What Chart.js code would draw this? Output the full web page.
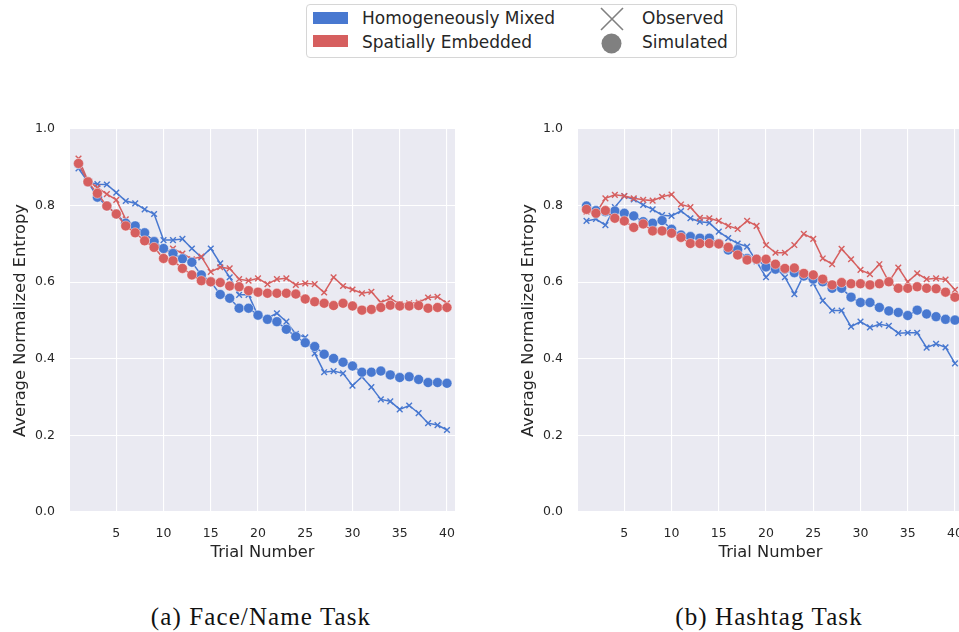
<!DOCTYPE html>
<html>
<head>
<meta charset="utf-8">
<script src="https://cdn.jsdelivr.net/npm/chart.js@4/dist/chart.umd.min.js"></script>
<style>
  html, body { margin: 0; padding: 0; background: #ffffff; overflow: hidden; }
  body { width: 959px; height: 632px; position: relative; font-family: "DejaVu Sans", sans-serif; color: #262626; }
  canvas { position: absolute; top: 100px; }
  #faceChart { left: 0px; }
  #hashtagChart { left: 508px; }
  #legend {
    position: absolute; left: 306px; top: 4px; width: 431px; height: 54px;
    box-sizing: border-box; border: 1px solid #d6d6d6; border-radius: 4px; background: #ffffff;
    font-size: 17px;
  }
  #legend .lbl { position: absolute; line-height: 20px; white-space: nowrap; color: #262626; }
  #legend .patch { position: absolute; width: 35px; height: 12px; }
  #legend svg { position: absolute; }
  .caption {
    position: absolute; top: 602px; line-height: 30px; white-space: nowrap;
    font-family: "Liberation Serif", "Times New Roman", serif; font-size: 25px; letter-spacing: 1.1px;
    color: #111111; transform: translateX(-50%);
  }
</style>
</head>
<body>
<div id="legend">
  <div class="patch" style="left:6px; top:7px; background:#4878d0;"></div>
  <span class="lbl" style="left:55px; top:3px;">Homogeneously Mixed</span>
  <div class="patch" style="left:6px; top:30px; background:#d65f5f;"></div>
  <span class="lbl" style="left:55px; top:27px;">Spatially Embedded</span>
  <svg style="left:292px; top:1px;" width="26" height="26" viewBox="0 0 26 26">
    <path d="M2 2 L24 24 M24 2 L2 24" stroke="#808080" stroke-width="1.6" fill="none"/>
  </svg>
  <span class="lbl" style="left:335px; top:3px;">Observed</span>
  <svg style="left:293px; top:27px;" width="24" height="24" viewBox="0 0 24 24">
    <circle cx="11.5" cy="11.5" r="10" fill="#808080"/>
  </svg>
  <span class="lbl" style="left:335px; top:27px;">Simulated</span>
</div>

<canvas id="faceChart" width="470" height="470"></canvas>
<canvas id="hashtagChart" width="470" height="470"></canvas>

<span class="caption" style="left:261px;">(a) Face/Name Task</span>
<span class="caption" style="left:769px;">(b) Hashtag Task</span>

<script>
// Trial numbers along the horizontal axis
const trials = [1, 2, 3, 4, 5, 6, 7, 8, 9, 10, 11, 12, 13, 14, 15, 16, 17, 18, 19, 20,
                21, 22, 23, 24, 25, 26, 27, 28, 29, 30, 31, 32, 33, 34, 35, 36, 37, 38, 39, 40];
const xTicks = [5, 10, 15, 20, 25, 30, 35, 40];
const yTicks = [0.0, 0.2, 0.4, 0.6, 0.8, 1.0];

// (a) Face/Name task: average normalized entropy per trial
const faceMixedObserved = [0.897, 0.862, 0.856, 0.855, 0.834, 0.812, 0.806, 0.790, 0.778, 0.710,
                           0.710, 0.713, 0.688, 0.665, 0.688, 0.649, 0.613, 0.567, 0.567, 0.512,
                           0.506, 0.519, 0.497, 0.465, 0.456, 0.414, 0.365, 0.368, 0.362, 0.330,
                           0.353, 0.326, 0.294, 0.289, 0.268, 0.278, 0.258, 0.232, 0.227, 0.214];
const faceMixedSimulated = [0.909, 0.862, 0.822, 0.799, 0.778, 0.754, 0.747, 0.729, 0.706, 0.688,
                            0.675, 0.661, 0.652, 0.619, 0.601, 0.568, 0.558, 0.532, 0.532, 0.514,
                            0.503, 0.497, 0.477, 0.458, 0.442, 0.432, 0.412, 0.401, 0.391, 0.381,
                            0.365, 0.365, 0.368, 0.358, 0.351, 0.353, 0.346, 0.338, 0.338, 0.336];
const faceSpatialObserved = [0.923, 0.865, 0.847, 0.830, 0.815, 0.764, 0.743, 0.723, 0.710, 0.675,
                             0.688, 0.675, 0.660, 0.667, 0.627, 0.639, 0.636, 0.608, 0.604, 0.610,
                             0.595, 0.608, 0.610, 0.593, 0.597, 0.595, 0.573, 0.613, 0.590, 0.581,
                             0.571, 0.575, 0.547, 0.558, 0.543, 0.545, 0.547, 0.560, 0.562, 0.545];
const faceSpatialSimulated = [0.910, 0.862, 0.832, 0.799, 0.778, 0.747, 0.729, 0.708, 0.691, 0.662,
                              0.656, 0.636, 0.619, 0.604, 0.601, 0.599, 0.590, 0.588, 0.578, 0.574,
                              0.571, 0.571, 0.571, 0.569, 0.556, 0.549, 0.545, 0.539, 0.545, 0.538,
                              0.527, 0.529, 0.534, 0.540, 0.538, 0.538, 0.539, 0.532, 0.534, 0.534];

// (b) Hashtag task
const hashtagMixedObserved = [0.760, 0.765, 0.749, 0.796, 0.825, 0.816, 0.802, 0.790, 0.775, 0.773,
                              0.786, 0.767, 0.758, 0.755, 0.732, 0.715, 0.701, 0.693, 0.654, 0.613,
                              0.640, 0.613, 0.569, 0.619, 0.597, 0.552, 0.526, 0.526, 0.484, 0.497,
                              0.482, 0.490, 0.486, 0.467, 0.468, 0.468, 0.429, 0.439, 0.430, 0.388];
const hashtagMixedSimulated = [0.799, 0.787, 0.784, 0.786, 0.780, 0.773, 0.758, 0.754, 0.761, 0.738,
                               0.723, 0.719, 0.715, 0.715, 0.701, 0.684, 0.685, 0.662, 0.660, 0.640,
                               0.634, 0.634, 0.625, 0.616, 0.608, 0.601, 0.584, 0.584, 0.561, 0.547,
                               0.547, 0.534, 0.525, 0.521, 0.513, 0.527, 0.517, 0.510, 0.503, 0.501];
const hashtagSpatialObserved = [0.784, 0.780, 0.819, 0.828, 0.825, 0.819, 0.815, 0.813, 0.823, 0.829,
                                0.803, 0.796, 0.768, 0.767, 0.760, 0.747, 0.739, 0.760, 0.747, 0.697,
                                0.677, 0.677, 0.697, 0.726, 0.713, 0.662, 0.647, 0.687, 0.660, 0.632,
                                0.621, 0.647, 0.601, 0.638, 0.601, 0.623, 0.608, 0.610, 0.607, 0.580];
const hashtagSpatialSimulated = [0.790, 0.780, 0.787, 0.767, 0.760, 0.743, 0.752, 0.734, 0.734, 0.728,
                                 0.717, 0.701, 0.701, 0.701, 0.700, 0.691, 0.671, 0.658, 0.660, 0.660,
                                 0.647, 0.636, 0.637, 0.623, 0.619, 0.608, 0.593, 0.599, 0.596, 0.596,
                                 0.593, 0.596, 0.601, 0.584, 0.584, 0.588, 0.584, 0.583, 0.574, 0.561];

const BLUE = '#4878d0';
const RED = '#d65f5f';
const TEXT = '#262626';

// Fill the plotting area with the light grey-blue panel colour
const panelBackground = {
  id: 'panelBackground',
  beforeDraw(chart) {
    const { ctx, chartArea: a } = chart;
    ctx.save();
    ctx.fillStyle = '#eaeaf2';
    ctx.fillRect(a.left, a.top, a.right - a.left, a.bottom - a.top);
    ctx.restore();
  }
};

function points(values) {
  return values.map((v, i) => ({ x: trials[i], y: v }));
}

function observedSeries(values, color, order) {
  return {
    data: points(values),
    borderColor: color,
    backgroundColor: color,
    borderWidth: 1.5,
    pointStyle: 'crossRot',
    pointRadius: 4,
    pointBorderWidth: 1.4,
    pointBorderColor: color,
    fill: false,
    tension: 0,
    order: order
  };
}

function simulatedSeries(values, color, order) {
  return {
    data: points(values),
    borderColor: color,
    backgroundColor: color,
    borderWidth: 1.5,
    pointStyle: 'circle',
    pointRadius: 5,
    pointBackgroundColor: color,
    pointBorderColor: 'rgba(255,255,255,0.55)',
    pointBorderWidth: 0.8,
    fill: false,
    tension: 0,
    order: order
  };
}

function buildChart(canvasId, mixedObs, mixedSim, spatialObs, spatialSim) {
  const tickFont = { family: 'DejaVu Sans', size: 12.5 };
  const titleFont = { family: 'DejaVu Sans', size: 16.3 };
  return new Chart(document.getElementById(canvasId), {
    type: 'line',
    data: {
      datasets: [
        simulatedSeries(spatialSim, RED, 0),
        simulatedSeries(mixedSim, BLUE, 1),
        observedSeries(spatialObs, RED, 2),
        observedSeries(mixedObs, BLUE, 3)
      ]
    },
    options: {
      responsive: false,
      animation: false,
      layout: { padding: { left: 0, top: 29, right: 15, bottom: 0 } },
      plugins: { legend: { display: false }, tooltip: { enabled: false } },
      scales: {
        x: {
          type: 'linear',
          min: 0.1,
          max: 40.85,
          afterBuildTicks: (s) => { s.ticks = xTicks.map(v => ({ value: v })); },
          afterFit: (s) => { s.height = 58; },
          ticks: { autoSkip: false, maxRotation: 0, font: tickFont, color: TEXT, padding: 14,
                   callback: (v) => String(v) },
          grid: { color: '#ffffff', lineWidth: 1.1, drawTicks: false },
          border: { display: false },
          title: { display: true, text: 'Trial Number', font: titleFont, color: TEXT,
                   padding: { top: 0, bottom: 7 } }
        },
        y: {
          min: 0,
          max: 1,
          afterBuildTicks: (s) => { s.ticks = yTicks.map(v => ({ value: v })); },
          afterFit: (s) => { s.width = 70; },
          ticks: { font: tickFont, color: TEXT, padding: 15, callback: (v) => Number(v).toFixed(1) },
          grid: { color: '#ffffff', lineWidth: 1.1, drawTicks: false },
          border: { display: false },
          title: { display: true, text: 'Average Normalized Entropy', font: titleFont, color: TEXT,
                   padding: { top: 11, bottom: 0 } }
        }
      }
    },
    plugins: [panelBackground]
  });
}

buildChart('faceChart', faceMixedObserved, faceMixedSimulated, faceSpatialObserved, faceSpatialSimulated);
buildChart('hashtagChart', hashtagMixedObserved, hashtagMixedSimulated, hashtagSpatialObserved, hashtagSpatialSimulated);
</script>
</body>
</html>
